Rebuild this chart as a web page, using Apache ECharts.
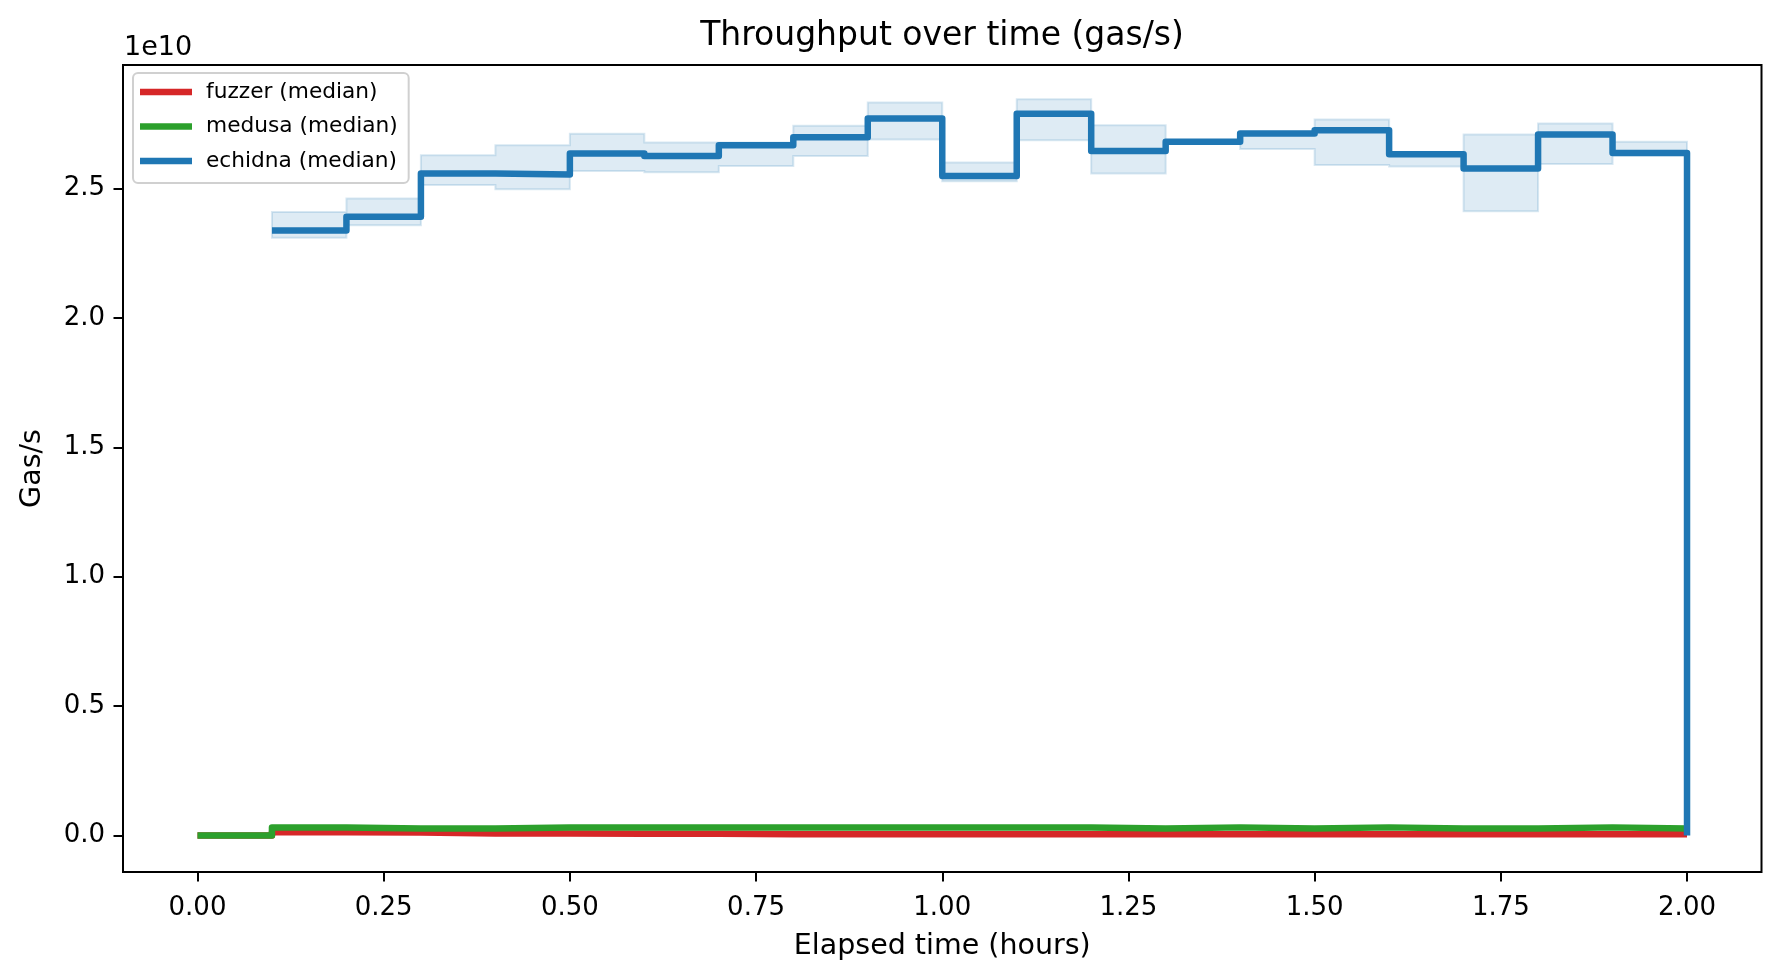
<!DOCTYPE html>
<html>
<head>
<meta charset="utf-8">
<script src="https://cdn.jsdelivr.net/npm/echarts@6/dist/echarts.min.js"></script>
<style>
html,body{margin:0;padding:0;background:#fff;}
#chart{width:1780px;height:978px;}
</style>
</head>
<body>
<div id="chart"></div>
<script>
// ---- data ----
const timeHours = [0.0,0.1,0.2,0.3,0.4,0.5,0.6,0.7,0.8,0.9,1.0,1.1,1.2,1.3,1.4,1.5,1.6,1.7,1.8,1.9,2.0];
const fuzzerMedian = [0, 1.2e8, 1.1e8, 0.7e8, 0.7e8, 0.6e8, 0.6e8, 0.43e8, 0.43e8, 0.43e8, 0.43e8, 0.43e8, 0.43e8, 0.43e8, 0.43e8, 0.43e8, 0.43e8, 0.43e8, 0.43e8, 0.43e8, 0.43e8];
const medusaMedian = [0, 3.05e8, 2.7e8, 2.7e8, 3.05e8, 3.1e8, 3.1e8, 3.1e8, 3.1e8, 3.1e8, 3.1e8, 3.1e8, 2.7e8, 3.1e8, 2.7e8, 3.1e8, 2.7e8, 2.7e8, 3.1e8, 2.7e8, 2.7e8];
const echidnaTime = [0.1,0.2,0.3,0.4,0.5,0.6,0.7,0.8,0.9,1.0,1.1,1.2,1.3,1.4,1.5,1.6,1.7,1.8,1.9,2.0];
const echidnaMedian = [2.338e10, 2.391e10, 2.559e10, 2.555e10, 2.636e10, 2.626e10, 2.668e10, 2.699e10, 2.771e10, 2.549e10, 2.790e10, 2.646e10, 2.681e10, 2.713e10, 2.726e10, 2.633e10, 2.578e10, 2.709e10, 2.638e10, 0];
const echidnaLower = [2.310e10, 2.359e10, 2.514e10, 2.498e10, 2.568e10, 2.563e10, 2.588e10, 2.626e10, 2.690e10, 2.529e10, 2.687e10, 2.559e10, 2.676e10, 2.653e10, 2.591e10, 2.586e10, 2.413e10, 2.595e10, 2.629e10];
const echidnaUpper = [2.410e10, 2.462e10, 2.629e10, 2.668e10, 2.712e10, 2.678e10, 2.678e10, 2.743e10, 2.833e10, 2.601e10, 2.846e10, 2.745e10, 2.686e10, 2.720e10, 2.767e10, 2.640e10, 2.709e10, 2.752e10, 2.681e10];
const xTicks = [0, 0.25, 0.5, 0.75, 1.0, 1.25, 1.5, 1.75, 2.0];
const yTicks = [0, 0.5e10, 1.0e10, 1.5e10, 2.0e10, 2.5e10];
const seriesNames = ['fuzzer (median)', 'medusa (median)', 'echidna (median)'];

const FONT = 'DejaVu Sans';
const pairs = (xs, ys) => xs.map((x, i) => [x, ys[i]]);

const chart = echarts.init(document.getElementById('chart'), null, {renderer: 'canvas'});

const bandData = echidnaLower.map((lo, i) => [echidnaTime[i], lo, echidnaUpper[i]]);

function renderBand(params, api) {
  if (params.dataIndex !== 0) return null;
  const n = echidnaLower.length;
  const xEnd = echidnaTime[n];
  const pts = [];
  for (let i = 0; i < n; i++) {
    const x0 = echidnaTime[i], x1 = (i + 1 < n) ? echidnaTime[i + 1] : xEnd;
    pts.push(api.coord([x0, echidnaUpper[i]]));
    pts.push(api.coord([x1, echidnaUpper[i]]));
  }
  for (let i = n - 1; i >= 0; i--) {
    const x0 = echidnaTime[i], x1 = (i + 1 < n) ? echidnaTime[i + 1] : xEnd;
    pts.push(api.coord([x1, echidnaLower[i]]));
    pts.push(api.coord([x0, echidnaLower[i]]));
  }
  return {
    type: 'polygon',
    shape: {points: pts},
    style: {fill: 'rgba(31,119,180,0.15)', stroke: 'rgba(31,119,180,0.17)', lineWidth: 2}
  };
}

const lineCommon = {
  type: 'line', step: 'end', symbol: 'none', showSymbol: false,
  animation: false
};

chart.setOption({
  animation: false,
  backgroundColor: '#ffffff',
  title: {
    text: 'Throughput over time (gas/s)',
    left: 942, top: 20, padding: 0, textAlign: 'center',
    textStyle: {fontFamily: FONT, fontSize: 33, fontWeight: 'normal', color: '#000'}
  },
  grid: {
    left: 123, right: 18.5, top: 65, bottom: 106,
    show: true, borderColor: '#000', borderWidth: 2, backgroundColor: 'transparent'
  },
  legend: {
    data: seriesNames.map(n => ({name: n, icon: 'rect'})),
    orient: 'vertical',
    left: 133, top: 73,
    itemWidth: 52, itemHeight: 6.5, itemGap: 12.5,
    padding: [8, 11, 11, 7],
    backgroundColor: '#fff',
    borderColor: '#d0d0d0', borderWidth: 2, borderRadius: 5,
    textStyle: {fontFamily: FONT, fontSize: 21.7, color: '#000', lineHeight: 22, padding: [0, 0, 0, 9]}
  },
  xAxis: {
    type: 'value', min: -0.1, max: 2.1,
    name: 'Elapsed time (hours)', nameLocation: 'middle', nameGap: 60,
    nameTextStyle: {fontFamily: FONT, fontSize: 28.5, color: '#000'},
    axisLine: {show: false, onZero: false},
    axisTick: {show: true, length: 9.5, lineStyle: {color: '#000', width: 2}, customValues: xTicks},
    axisLabel: {fontFamily: FONT, fontSize: 26, color: '#000', margin: 23, customValues: xTicks,
      formatter: v => Number(v).toFixed(2)},
    splitLine: {show: false}
  },
  yAxis: {
    type: 'value', min: -0.1415e10, max: 2.978e10,
    name: 'Gas/s', nameLocation: 'middle', nameGap: 76, nameRotate: 90,
    nameTextStyle: {fontFamily: FONT, fontSize: 28.5, color: '#000'},
    axisLine: {show: false, onZero: false},
    axisTick: {show: true, length: 9.5, lineStyle: {color: '#000', width: 2}, customValues: yTicks},
    axisLabel: {fontFamily: FONT, fontSize: 26, color: '#000', margin: 18, customValues: yTicks,
      padding: [4.5, 0, 0, 0],
      formatter: v => (Number(v) / 1e10).toFixed(1)},
    splitLine: {show: false}
  },
  graphic: [{
    type: 'text', left: 124, top: 34,
    style: {text: '1e10', fontFamily: FONT, fontSize: 27, fill: '#000'}
  }],
  series: [
    Object.assign({}, lineCommon, {
      name: seriesNames[0], data: pairs(timeHours, fuzzerMedian), z: 2,
      itemStyle: {color: '#d62728'},
      lineStyle: {color: '#d62728', width: 6.5, join: 'round', cap: 'butt'}
    }),
    Object.assign({}, lineCommon, {
      name: seriesNames[1], data: pairs(timeHours, medusaMedian), z: 3,
      itemStyle: {color: '#2ca02c'},
      lineStyle: {color: '#2ca02c', width: 6.5, join: 'round', cap: 'butt'}
    }),
    {
      type: 'custom', name: 'echidna band', data: bandData, z: 4,
      renderItem: renderBand, encode: {x: 0, y: [1, 2]}, silent: true, animation: false
    },
    Object.assign({}, lineCommon, {
      name: seriesNames[2], data: pairs(echidnaTime, echidnaMedian), z: 5,
      itemStyle: {color: '#1f77b4'},
      lineStyle: {color: '#1f77b4', width: 6.5, join: 'round', cap: 'butt'}
    })
  ]
});
</script>
</body>
</html>
